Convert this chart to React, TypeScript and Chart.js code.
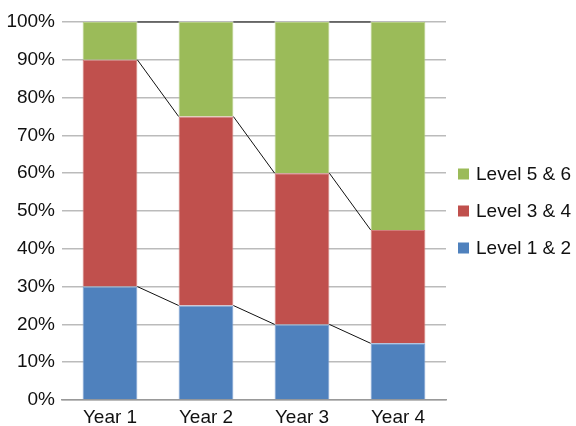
import React, { useEffect, useRef } from "react";
import { Chart, registerables } from "chart.js";

Chart.register(...registerables);

const categories = ["Year 1", "Year 2", "Year 3", "Year 4"];
const level12 = [30, 25, 20, 15];
const level34 = [60, 50, 40, 30];
const level56 = [10, 25, 40, 55];
const yTicks = [0, 10, 20, 30, 40, 50, 60, 70, 80, 90, 100];

const FONT_FAMILY = "'Liberation Sans', Arial, sans-serif";

const seriesLines = {
  id: "seriesLines",
  afterDatasetsDraw(chart: any) {
    const ctx = chart.ctx;
    ctx.save();
    ctx.strokeStyle = "#111";
    ctx.lineWidth = 1;
    chart.data.datasets.forEach((_: any, d: number) => {
      const meta = chart.getDatasetMeta(d);
      for (let i = 0; i < meta.data.length - 1; i++) {
        const a = meta.data[i];
        const b = meta.data[i + 1];
        ctx.beginPath();
        ctx.moveTo(a.x + a.width / 2, a.y);
        ctx.lineTo(b.x - b.width / 2, b.y);
        ctx.stroke();
      }
    });
    ctx.restore();
  },
};

const sideLegend = {
  id: "sideLegend",
  afterDraw(chart: any) {
    const ctx = chart.ctx;
    const area = chart.chartArea;
    const ds = chart.data.datasets.slice().reverse();
    const spacing = 37;
    const center = (area.top + area.bottom) / 2;
    const x0 = area.right + 12;
    ctx.save();
    ctx.font = `19px ${FONT_FAMILY}`;
    ctx.textBaseline = "middle";
    ctx.textAlign = "left";
    ds.forEach((d: any, i: number) => {
      const cy = center + (i - (ds.length - 1) / 2) * spacing;
      ctx.fillStyle = d.backgroundColor;
      ctx.fillRect(x0, cy - 5.5, 11, 11);
      ctx.fillStyle = "#111";
      ctx.fillText(d.label, x0 + 18, cy + 1);
    });
    ctx.restore();
  },
};

export default function App() {
  const ref = useRef<HTMLCanvasElement>(null);
  useEffect(() => {
    document.body.style.margin = "0";
    const font = { family: FONT_FAMILY, size: 19 };
    const chart = new Chart(ref.current!, {
      type: "bar",
      data: {
        labels: categories,
        datasets: [
          { label: "Level 1 & 2", data: level12, backgroundColor: "#4F81BD", borderColor: "#7A9FD0", borderWidth: 1 },
          { label: "Level 3 & 4", data: level34, backgroundColor: "#C0504D", borderColor: "#D27D7A", borderWidth: 1 },
          { label: "Level 5 & 6", data: level56, backgroundColor: "#9BBB59", borderColor: "#B5CE84", borderWidth: 1 },
        ],
      },
      options: {
        animation: false,
        responsive: false,
        maintainAspectRatio: false,
        layout: { padding: { top: 22, right: 130, left: 0, bottom: 0 } },
        datasets: { bar: { categoryPercentage: 0.57, barPercentage: 1 } },
        plugins: {
          legend: { display: false },
          tooltip: { enabled: false },
        },
        scales: {
          x: {
            stacked: true,
            afterFit: (s: any) => { s.height = 26; },
            grid: { display: false, drawTicks: false },
            border: { display: true, color: "#999", width: 1.5 },
            ticks: { color: "#111", font, padding: 6 },
          },
          y: {
            stacked: true,
            min: 0,
            max: 100,
            afterFit: (s: any) => { s.width = 62; },
            afterBuildTicks: (axis: any) => {
              axis.ticks = yTicks.map((v) => ({ value: v }));
            },
            grid: { color: "#bbb", lineWidth: 1.5, drawTicks: false },
            border: { display: false },
            ticks: { color: "#111", font, padding: 7, callback: (v: any) => v + "%" },
          },
        },
      },
      plugins: [seriesLines, sideLegend],
    } as any);
    return () => chart.destroy();
  }, []);
  return (
    <div style={{ width: 576, height: 426 }}>
      <canvas ref={ref} width={576} height={426} style={{ width: 576, height: 426 }} />
    </div>
  );
}
